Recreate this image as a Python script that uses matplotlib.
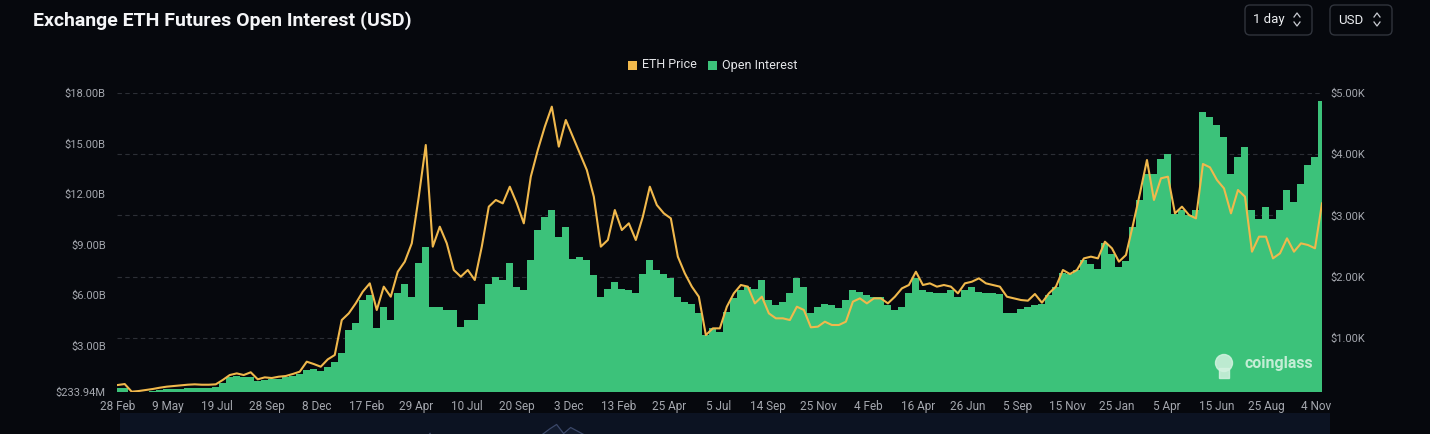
import matplotlib
matplotlib.use("Agg")
import matplotlib.pyplot as plt
import pandas as pd
from matplotlib.patches import FancyBboxPatch, Rectangle, Ellipse
from matplotlib.lines import Line2D

plt.rcParams['font.family'] = ['Roboto', 'DejaVu Sans']

# ---------------- data ----------------
title = "Exchange ETH Futures Open Interest (USD)"
series_names = ["ETH Price", "Open Interest"]
start_date = "2020-02-28"
step_days = 10

eth_price_usd = [
    232, 248, 123, 134, 150, 167, 188, 205, 216, 226,
    237, 243, 237, 237, 243, 314, 395, 422, 395, 440,
    325, 357, 346, 368, 379, 412, 450, 613, 575, 531,
    651, 722, 1293, 1402, 1566, 1756, 1892, 1457, 1838, 1674,
    2082, 2246, 2545, 3307, 4151, 2491, 2817, 2545, 2110, 2001,
    2110, 1947, 2491, 3144, 3253, 3198, 3470, 3198, 2872, 3634,
    4069, 4450, 4777, 4124, 4559, 4287, 4015, 3743, 3307, 2491,
    2600, 3089, 2763, 2872, 2600, 2981, 3470, 3171, 3035, 2953,
    2328, 2055, 1838, 1674, 1048, 1157, 1157, 1511, 1729, 1865,
    1838, 1565, 1674, 1402, 1321, 1321, 1293, 1511, 1457, 1174,
    1185, 1266, 1212, 1212, 1266, 1593, 1647, 1565, 1647, 1647,
    1565, 1674, 1810, 1865, 2082, 1865, 1892, 1838, 1865, 1838,
    1729, 1892, 1919, 1974, 1892, 1865, 1838, 1674, 1647, 1620,
    1609, 1718, 1576, 1729, 1838, 2110, 2044, 2110, 2300, 2328,
    2300, 2572, 2464, 2246, 2355, 2845, 3362, 3906, 3253, 3607,
    3634, 3035, 3144, 3008, 2953, 3841, 3786, 3579, 3443, 3035,
    3416, 3307, 2409, 2654, 2654, 2300, 2382, 2627, 2409, 2545,
    2518, 2464, 3198,
]

open_interest_busd = [
    0.45, 0.49, 0.21, 0.23, 0.25, 0.29, 0.35, 0.39, 0.41, 0.43,
    0.45, 0.45, 0.47, 0.49, 0.55, 0.75, 1.10, 1.18, 1.10, 1.14,
    0.91, 0.95, 0.99, 1.02, 1.10, 1.18, 1.28, 1.54, 1.58, 1.48,
    1.74, 2.03, 2.53, 3.91, 4.31, 5.69, 5.99, 4.01, 5.30, 4.51,
    6.09, 6.68, 5.89, 7.87, 8.85, 5.30, 5.30, 5.10, 5.10, 4.11,
    4.51, 4.51, 5.49, 6.68, 7.08, 6.88, 7.87, 6.48, 6.28, 8.06,
    9.84, 10.63, 11.03, 9.45, 10.04, 8.16, 8.26, 8.06, 7.17, 5.89,
    6.38, 6.78, 6.38, 6.28, 6.09, 7.27, 8.06, 7.47, 7.27, 6.98,
    5.89, 5.59, 5.49, 4.90, 3.62, 4.01, 3.81, 5.00, 5.79, 6.28,
    6.48, 6.38, 6.88, 5.69, 5.39, 5.59, 6.09, 6.98, 6.48, 4.90,
    5.30, 5.49, 5.39, 5.20, 5.69, 6.28, 6.18, 5.99, 5.89, 5.89,
    5.39, 5.10, 5.30, 6.09, 6.98, 6.28, 6.18, 6.09, 6.09, 6.28,
    5.89, 6.28, 6.48, 6.18, 6.09, 6.09, 6.05, 4.90, 4.94, 5.14,
    5.26, 5.40, 5.49, 5.99, 6.48, 7.31, 7.23, 7.47, 8.06, 7.83,
    7.57, 9.09, 8.46, 7.67, 8.02, 10.04, 11.62, 13.20, 13.20, 14.09,
    14.39, 10.83, 11.03, 10.73, 11.03, 16.86, 16.57, 16.07, 15.38, 13.20,
    14.19, 14.79, 11.03, 10.53, 11.23, 10.53, 11.03, 12.22, 11.52, 12.61,
    13.70, 14.19, 17.55,
]

x_tick_dates = [
    "2020-02-28", "2020-05-09", "2020-07-19", "2020-09-28", "2020-12-08",
    "2021-02-17", "2021-04-29", "2021-07-10", "2021-09-20", "2021-12-03",
    "2022-02-13", "2022-04-25", "2022-07-05", "2022-09-14", "2022-11-25",
    "2023-02-04", "2023-04-16", "2023-06-26", "2023-09-05", "2023-11-15",
    "2024-01-25", "2024-04-05", "2024-06-15", "2024-08-25", "2024-11-04",
]

left_ticks_b = [0.23394, 3, 6, 9, 12, 15, 18]
left_tick_labels = ["$233.94M", "$3.00B", "$6.00B", "$9.00B", "$12.00B", "$15.00B", "$18.00B"]
right_ticks_usd = [1000, 2000, 3000, 4000, 5000]
right_tick_labels = ["$1.00K", "$2.00K", "$3.00K", "$4.00K", "$5.00K"]

# ---------------- style ----------------
W, H = 1430, 434
BG = '#06080d'
GREEN = '#3cc27a'
ORANGE = '#f0b84c'
TICK = '#a4a7ae'
GRID = '#2c2f36'

fig = plt.figure(figsize=(W / 100, H / 100), dpi=100, facecolor=BG)


def fx(x):
    return x / W


def fy(y):
    return 1 - y / H


dates = pd.date_range(start_date, periods=len(eth_price_usd), freq=f"{step_days}D")
xlim = (pd.Timestamp("2020-02-27"), pd.Timestamp("2024-11-13"))

# navigator strip (drawn first, below everything)
nav = fig.add_axes([fx(120), fy(491), fx(1330) - fx(120), fy(413) - fy(491)], zorder=0)
nav.set_facecolor('#0c1322')
nav.fill_between(dates, eth_price_usd, 0, color='#121b2e', linewidth=0)
nav.plot(dates, eth_price_usd, color='#3b4869', linewidth=0.9)
nav.set_xlim(*xlim)
nav.set_ylim(0, 5600)
nav.set_xticks([])
nav.set_yticks([])
for s in nav.spines.values():
    s.set_visible(False)

ax = fig.add_axes([fx(117), fy(392), fx(1322) - fx(117), fy(93) - fy(392)], zorder=2)
ax.set_facecolor(BG)
ax_oi = ax.twinx()
ax_pr = ax.twinx()

# base axis: price scale, gridlines, right ticks
ax.set_ylim(118, 5000)
ax.set_yticks(right_ticks_usd)
ax.set_yticklabels(right_tick_labels)
ax.yaxis.tick_right()
ax.grid(axis='y', color=GRID, linestyle=(0, (4, 3)), linewidth=0.8)
ax.grid(axis='x', visible=False)
ax.set_axisbelow(True)
ax.tick_params(axis='y', length=0, colors=TICK, labelsize=8, pad=6)

# open interest bars
ax_oi.bar(dates, open_interest_busd, width=step_days, color=GREEN, linewidth=0, zorder=2)
ax_oi.set_ylim(left_ticks_b[0], 18)
ax_oi.yaxis.tick_left()
ax_oi.set_yticks(left_ticks_b)
ax_oi.set_yticklabels(left_tick_labels)
ax_oi.tick_params(axis='y', length=0, colors=TICK, labelsize=8, pad=8)

# price line
ax_pr.plot(dates, eth_price_usd, color=ORANGE, linewidth=1.5, solid_joinstyle='round', zorder=3)
ax_pr.set_ylim(118, 5000)
ax_pr.set_yticks([])

ax.set_xlim(*xlim)
ax.set_xticks(pd.to_datetime(x_tick_dates))
ax.set_xticklabels([f"{d.day} {d.strftime('%b')}" for d in pd.to_datetime(x_tick_dates)])
ax.tick_params(axis='x', length=0, colors=TICK, labelsize=8.5, pad=6)

for a in (ax, ax_oi, ax_pr):
    for s in a.spines.values():
        s.set_visible(False)

# watermark
ax_pr.text(0.993, 0.095, "coinglass", transform=ax_pr.transAxes, ha='right', va='center',
           fontsize=11.5, fontweight='bold', color='#d3f2e0', alpha=0.9, zorder=5)
logo = Ellipse((1224 / 100, (H - 363) / 100), 0.17, 0.17,
               transform=fig.dpi_scale_trans, color='#d3f2e0', alpha=0.85, zorder=5)
fig.add_artist(logo)
logo2 = Rectangle((1219 / 100, (H - 378) / 100), 0.1, 0.1,
                  transform=fig.dpi_scale_trans, color='#d3f2e0', alpha=0.85, zorder=5)
fig.add_artist(logo2)

# title
fig.text(fx(33), fy(21), title, ha='left', va='center', fontsize=14,
         fontweight='bold', color='#f4f5f7')

# legend
leg_items = [(628, ORANGE, series_names[0]), (708, GREEN, series_names[1])]
for x0, col, name in leg_items:
    fig.add_artist(Rectangle((fx(x0), fy(70)), fx(9), 9 / H, transform=fig.transFigure,
                             color=col, linewidth=0))
    fig.text(fx(x0 + 14), fy(65), name, ha='left', va='center', fontsize=9, color='#e4e5e8')

# top-right selector buttons
for (x0, x1, label, chev_x) in [(1245, 1312, "1 day", 1297), (1330, 1392, "USD", 1377)]:
    box = FancyBboxPatch((x0 / 100, (H - 35) / 100), (x1 - x0) / 100, 30 / 100,
                         boxstyle="round,pad=0,rounding_size=0.05",
                         transform=fig.dpi_scale_trans, facecolor=BG,
                         edgecolor='#30343c', linewidth=1.0)
    fig.add_artist(box)
    fig.text(fx(x0 + 8), fy(20), label, ha='left', va='center', fontsize=9.5, color='#eceef1')
    for ya, yb in [(17, 13), (22, 26)]:
        fig.add_artist(Line2D([(chev_x - 3) / 100, chev_x / 100, (chev_x + 3) / 100],
                              [(H - ya) / 100, (H - yb) / 100, (H - ya) / 100],
                              transform=fig.dpi_scale_trans, color='#c9ccd2', linewidth=0.9))

fig.savefig("out.png", dpi=100, facecolor=BG)
